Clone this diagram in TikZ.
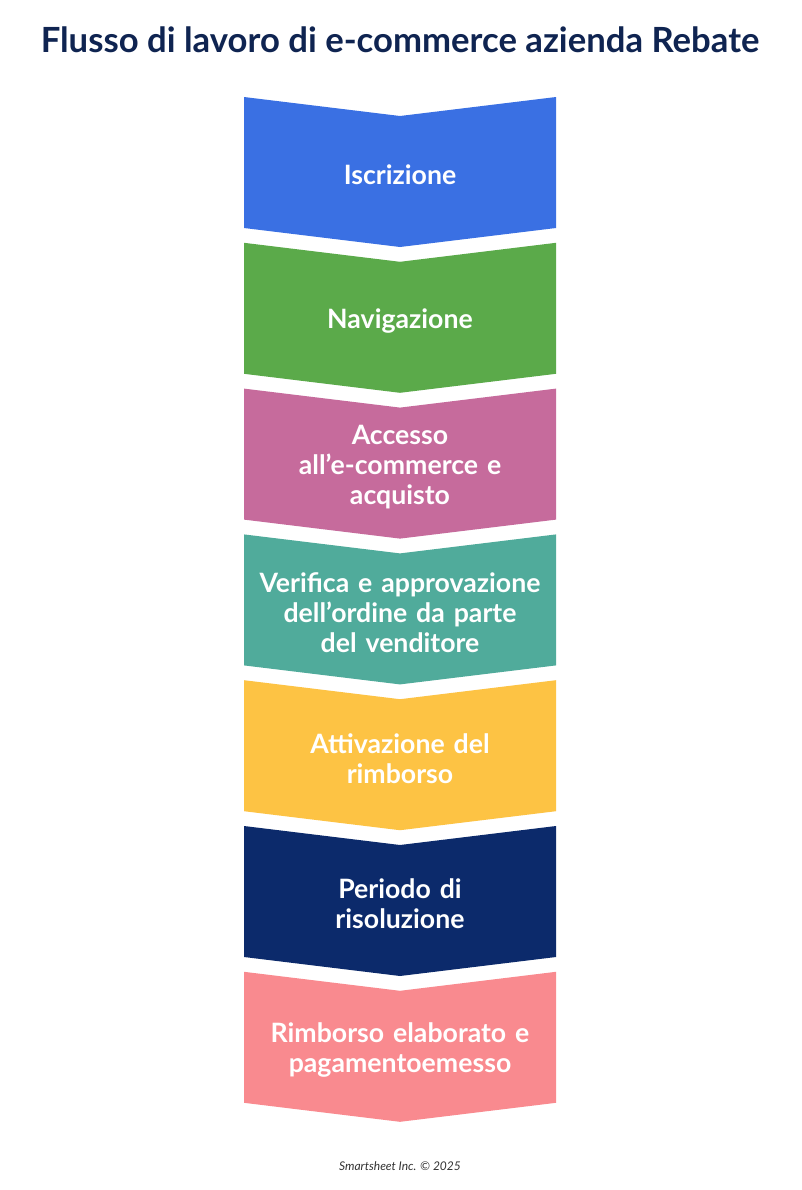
\documentclass[tikz,border=0pt]{standalone}
\usepackage{fontspec}
\setmainfont{Lato}
\definecolor{c1}{HTML}{3A70E3}
\definecolor{c2}{HTML}{5BAA4A}
\definecolor{c3}{HTML}{C66B9C}
\definecolor{c4}{HTML}{50AB9B}
\definecolor{c5}{HTML}{FDC344}
\definecolor{c6}{HTML}{0C2A6B}
\definecolor{c7}{HTML}{F98A8F}
\definecolor{tt}{HTML}{0F2451}
\begin{document}
\begin{tikzpicture}[x=0.75pt,y=-0.75pt,
 lbl/.style={text=white,font=\bfseries\fontsize{20}{22.5}\selectfont,align=center,text width=240pt}]
\useasboundingbox[fill=white] (0,0) rectangle (801,1190);
\node[font=\bfseries\fontsize{26}{30}\selectfont,text=tt] (title) at (400,40) {Flusso di lavoro di e-commerce azienda Rebate};
\foreach \i/\c/\t in {0/c1/{Iscrizione},1/c2/{Navigazione},2/c3/{Accesso\\all’e-commerce e\\acquisto},3/c4/{Verifica e approvazione\\dell’ordine da parte\\del venditore},4/c5/{Attivazione del\\rimborso},5/c6/{Periodo di\\risoluzione},6/c7/{Rimborso elaborato e\\pagamentoemesso}}{
 \pgfmathsetmacro{\y}{97+145.8*\i}
 \fill[\c] (244,\y) -- (400,\y+19) -- (556,\y) -- (556,\y+131) -- (400,\y+150) -- (244,\y+131) -- cycle;
 \node[lbl] (s\i) at (400,\y+78) {\t};
}
\node[font=\itshape\fontsize{9}{11}\selectfont,text=black!80] (foot) at (400,1166) {Smartsheet Inc. © 2025};
\end{tikzpicture}
\end{document}
